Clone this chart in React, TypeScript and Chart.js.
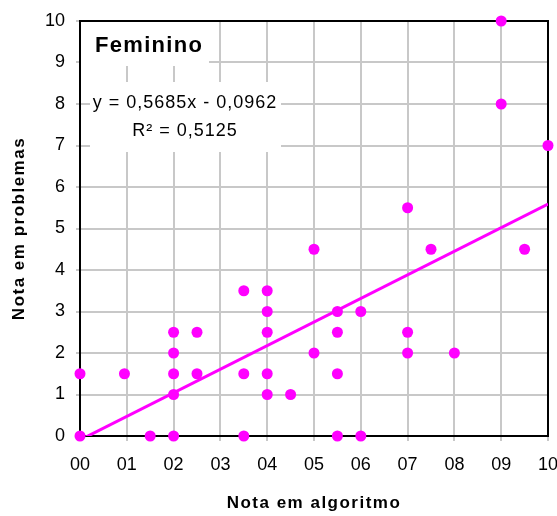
import React, { useEffect, useRef } from "react";
import { Chart, registerables, LinearScale } from "chart.js";

Chart.register(...registerables);

class SpacedLinearScale extends LinearScale {
  static id = "spacedLinear";
  static defaults = (LinearScale as any).defaults;
  drawTitle() {
    const ctx = (this as any).ctx as CanvasRenderingContext2D;
    ctx.save();
    (ctx as any).letterSpacing = "1.5px";
    // @ts-ignore
    super.drawTitle();
    ctx.restore();
  }
}
Chart.register(SpacedLinearScale);

// Data: "Nota em algoritmo" (x) vs "Nota em problemas" (y)
const algoritmo = [0, 0, 0.95, 1.5, 2, 2, 2, 2, 2, 2.5, 2.5, 3.5, 3.5, 3.5, 4, 4, 4, 4, 4, 4.5, 5, 5, 5.5, 5.5, 5.5, 5.5, 6, 6, 7, 7, 7, 7.5, 8, 9, 9, 9.5, 10];
const problemas = [1.5, 0, 1.5, 0, 2.5, 2, 1.5, 1, 0, 2.5, 1.5, 3.5, 1.5, 0, 3.5, 3, 2.5, 1.5, 1, 1, 4.5, 2, 3, 2.5, 1.5, 0, 3, 0, 5.5, 2.5, 2, 4.5, 2, 10, 8, 4.5, 7];

const trendSlope = 0.5685;
const trendIntercept = -0.0962;
const trendRange = [0, 10];

const xTickLabels = ["00", "01", "02", "03", "04", "05", "06", "07", "08", "09", "10"];
const yTickLabels = ["0", "1", "2", "3", "4", "5", "6", "7", "8", "9", "10"];

const titleText = "Feminino";
const equationText = "y = 0,5685x - 0,0962";
const r2Text = "R² = 0,5125";
const xTitle = "Nota em algoritmo";
const yTitle = "Nota em problemas";

const FONT = "Arial, 'Liberation Sans', sans-serif";
const MAGENTA = "#ff00ff";

const boxesPlugin = {
  id: "boxes",
  beforeDatasetsDraw(chart: any) {
    const { ctx, chartArea } = chart;
    const { left, top, right, bottom } = chartArea;
    ctx.save();
    // white boxes
    ctx.fillStyle = "#ffffff";
    ctx.fillRect(left, top, 129, 45);
    ctx.fillRect(left + 10, top + 61, 191, 70);
    // title
    ctx.fillStyle = "#000000";
    ctx.textBaseline = "alphabetic";
    ctx.textAlign = "left";
    ctx.font = `bold 22px ${FONT}`;
    (ctx as any).letterSpacing = "1.3px";
    ctx.fillText(titleText, left + 15, top + 31);
    // equation
    ctx.font = `18px ${FONT}`;
    (ctx as any).letterSpacing = "1px";
    ctx.textAlign = "center";
    ctx.fillText(equationText, left + 105, top + 87);
    ctx.fillText(r2Text, left + 105, top + 115);
    (ctx as any).letterSpacing = "0px";
    // full border
    ctx.strokeStyle = "#000000";
    ctx.lineWidth = 2;
    ctx.strokeRect(left, top, right - left, bottom - top);
    ctx.restore();
  },
};

export default function App() {
  const ref = useRef<HTMLCanvasElement | null>(null);

  useEffect(() => {
    if (!ref.current) return;
    const points = algoritmo.map((x, i) => ({ x, y: problemas[i] }));
    const trend = trendRange.map((x) => ({ x, y: trendSlope * x + trendIntercept }));

    const chart = new Chart(ref.current, {
      type: "scatter",
      data: {
        datasets: [
          {
            label: "Feminino",
            data: points,
            backgroundColor: MAGENTA,
            borderWidth: 0,
            pointRadius: 5.5,
            clip: false as any,
            order: 0,
          },
          {
            label: "Tendência",
            data: trend,
            showLine: true,
            borderColor: MAGENTA,
            borderWidth: 3,
            pointRadius: 0,
            order: 1,
          } as any,
        ],
      },
      options: {
        animation: false,
        responsive: false,
        devicePixelRatio: 1,
        layout: { padding: { top: 21, right: 9, left: 0, bottom: 0 } },
        plugins: {
          legend: { display: false },
          tooltip: { enabled: false },
        },
        scales: {
          x: {
            type: "spacedLinear" as any,
            min: 0,
            max: 10,
            afterFit: (s: any) => {
              s.height = 80;
              s.paddingLeft = 0;
              s.paddingRight = 0;
            },
            ticks: {
              stepSize: 1,
              autoSkip: false,
              maxRotation: 0,
              padding: 13,
              color: "#000000",
              font: { family: FONT, size: 18 },
              callback: (_v: any, i: number) => xTickLabels[i],
            },
            grid: { color: "#c8c8c8", lineWidth: 2, tickLength: 5 },
            border: { color: "#000000", width: 2 },
            title: {
              display: true,
              text: xTitle,
              color: "#000000",
              font: { family: FONT, size: 17, weight: "bold" },
              padding: { top: 0, bottom: 2 },
            },
          },
          y: {
            type: "spacedLinear" as any,
            min: 0,
            max: 10,
            afterFit: (s: any) => {
              s.width = 80;
              s.paddingTop = 0;
              s.paddingBottom = 0;
            },
            ticks: {
              stepSize: 1,
              autoSkip: false,
              padding: 11,
              color: "#000000",
              font: { family: FONT, size: 18 },
              callback: (_v: any, i: number) => yTickLabels[i],
            },
            grid: { color: "#c8c8c8", lineWidth: 2, tickLength: 4 },
            border: { color: "#000000", width: 2 },
            title: {
              display: true,
              text: yTitle,
              color: "#000000",
              font: { family: FONT, size: 17, weight: "bold" },
              padding: { top: 9, bottom: 0 },
            },
          },
        },
      } as any,
      plugins: [boxesPlugin],
    });

    return () => chart.destroy();
  }, []);

  return (
    <div style={{ position: "absolute", left: 0, top: 0, width: 557, height: 516, background: "#ffffff" }}>
      <canvas ref={ref} width={557} height={516} style={{ display: "block" }} />
    </div>
  );
}
